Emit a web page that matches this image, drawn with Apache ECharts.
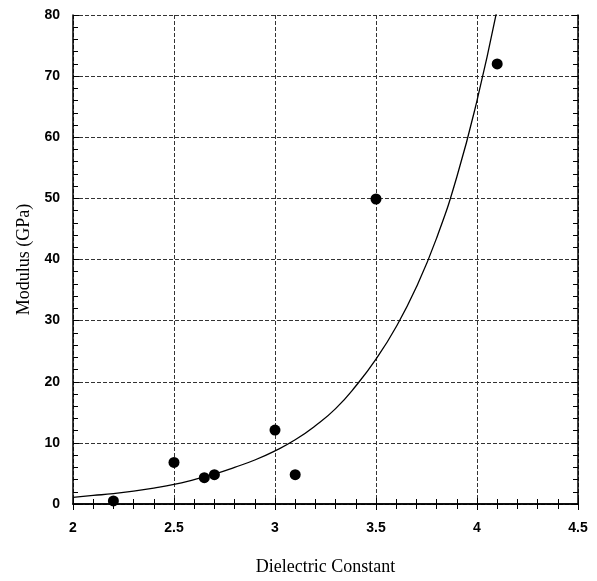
<!DOCTYPE html>
<html>
<head>
<meta charset="utf-8">
<script src="https://cdn.jsdelivr.net/npm/echarts@6/dist/echarts.min.js"></script>
<style>
    html, body { margin: 0; padding: 0; background: #fff; }
    #chart { width: 597px; height: 581px; }
</style>
</head>
<body>
<div id="chart"></div>
<script>
// measured points
const pointX = [2.2, 2.5, 2.65, 2.7, 3.0, 3.1, 3.5, 4.1];
const pointY = [0.5, 6.8, 4.3, 4.8, 12.1, 4.8, 49.9, 72.0];

// fitted curve, every 0.1
const curveX = [2.0, 2.1, 2.2, 2.3, 2.4, 2.5, 2.6, 2.7, 2.8, 2.9, 3.0, 3.1, 3.2, 3.3, 3.4, 3.5, 3.6, 3.7, 3.8, 3.9, 4.0, 4.1];
const curveY = [1.1, 1.4, 1.7, 2.1, 2.6, 3.2, 4.0, 4.9, 6.0, 7.2, 8.7, 10.5, 12.8, 15.6, 19.3, 23.7, 29, 35.5, 43.5, 53.5, 66, 81];

const chart = echarts.init(document.getElementById('chart'));

const tickFont = {fontFamily: 'Liberation Sans', fontWeight: 'bold', fontSize: 14, color: '#000'};
const nameFont = {fontFamily: 'Liberation Serif', fontSize: 18, color: '#000'};

const frameAxis = {
    type: 'value',
    axisLine: {show: true, lineStyle: {color: '#000', width: 1.5}},
    axisTick: {show: true, inside: true, length: 6, lineStyle: {color: '#000', width: 1}},
    minorTick: {show: true, splitNumber: 5, length: 5, lineStyle: {color: '#000', width: 1}},
};

chart.setOption({
    animation: false,
    grid: {left: 73, right: 19, top: 15, bottom: 77},
    xAxis: [
        Object.assign({}, frameAxis, {
            min: 2, max: 4.5, interval: 0.5,
            position: 'bottom',
            name: 'Dielectric Constant',
            nameLocation: 'middle',
            nameGap: 54,
            nameTextStyle: nameFont,
            axisLabel: Object.assign({margin: 17}, tickFont),
            splitLine: {show: true, lineStyle: {color: '#333', type: [4, 2], width: 1}},
        }),
        Object.assign({}, frameAxis, {
            min: 2, max: 4.5, interval: 0.5,
            position: 'top',
            axisLabel: {show: false},
            splitLine: {show: false},
        }),
    ],
    yAxis: [
        Object.assign({}, frameAxis, {
            min: 0, max: 80, interval: 10,
            position: 'left',
            name: 'Modulus (GPa)',
            nameLocation: 'middle',
            nameGap: 40,
            nameRotate: 90,
            nameTextStyle: nameFont,
            axisLabel: Object.assign({margin: 13}, tickFont),
            splitLine: {show: true, lineStyle: {color: '#333', type: [4, 2], width: 1}},
        }),
        Object.assign({}, frameAxis, {
            min: 0, max: 80, interval: 10,
            position: 'right',
            axisLabel: {show: false},
            splitLine: {show: false},
        }),
    ],
    series: [
        {
            type: 'line',
            data: curveX.map((x, i) => [x, curveY[i]]),
            smooth: 0.5,
            showSymbol: false,
            lineStyle: {color: '#000', width: 1.3},
            clip: true,
        },
        {
            type: 'scatter',
            data: pointX.map((x, i) => [x, pointY[i]]),
            symbolSize: 11,
            itemStyle: {color: '#000', opacity: 1},
        },
    ],
});
</script>
</body>
</html>
